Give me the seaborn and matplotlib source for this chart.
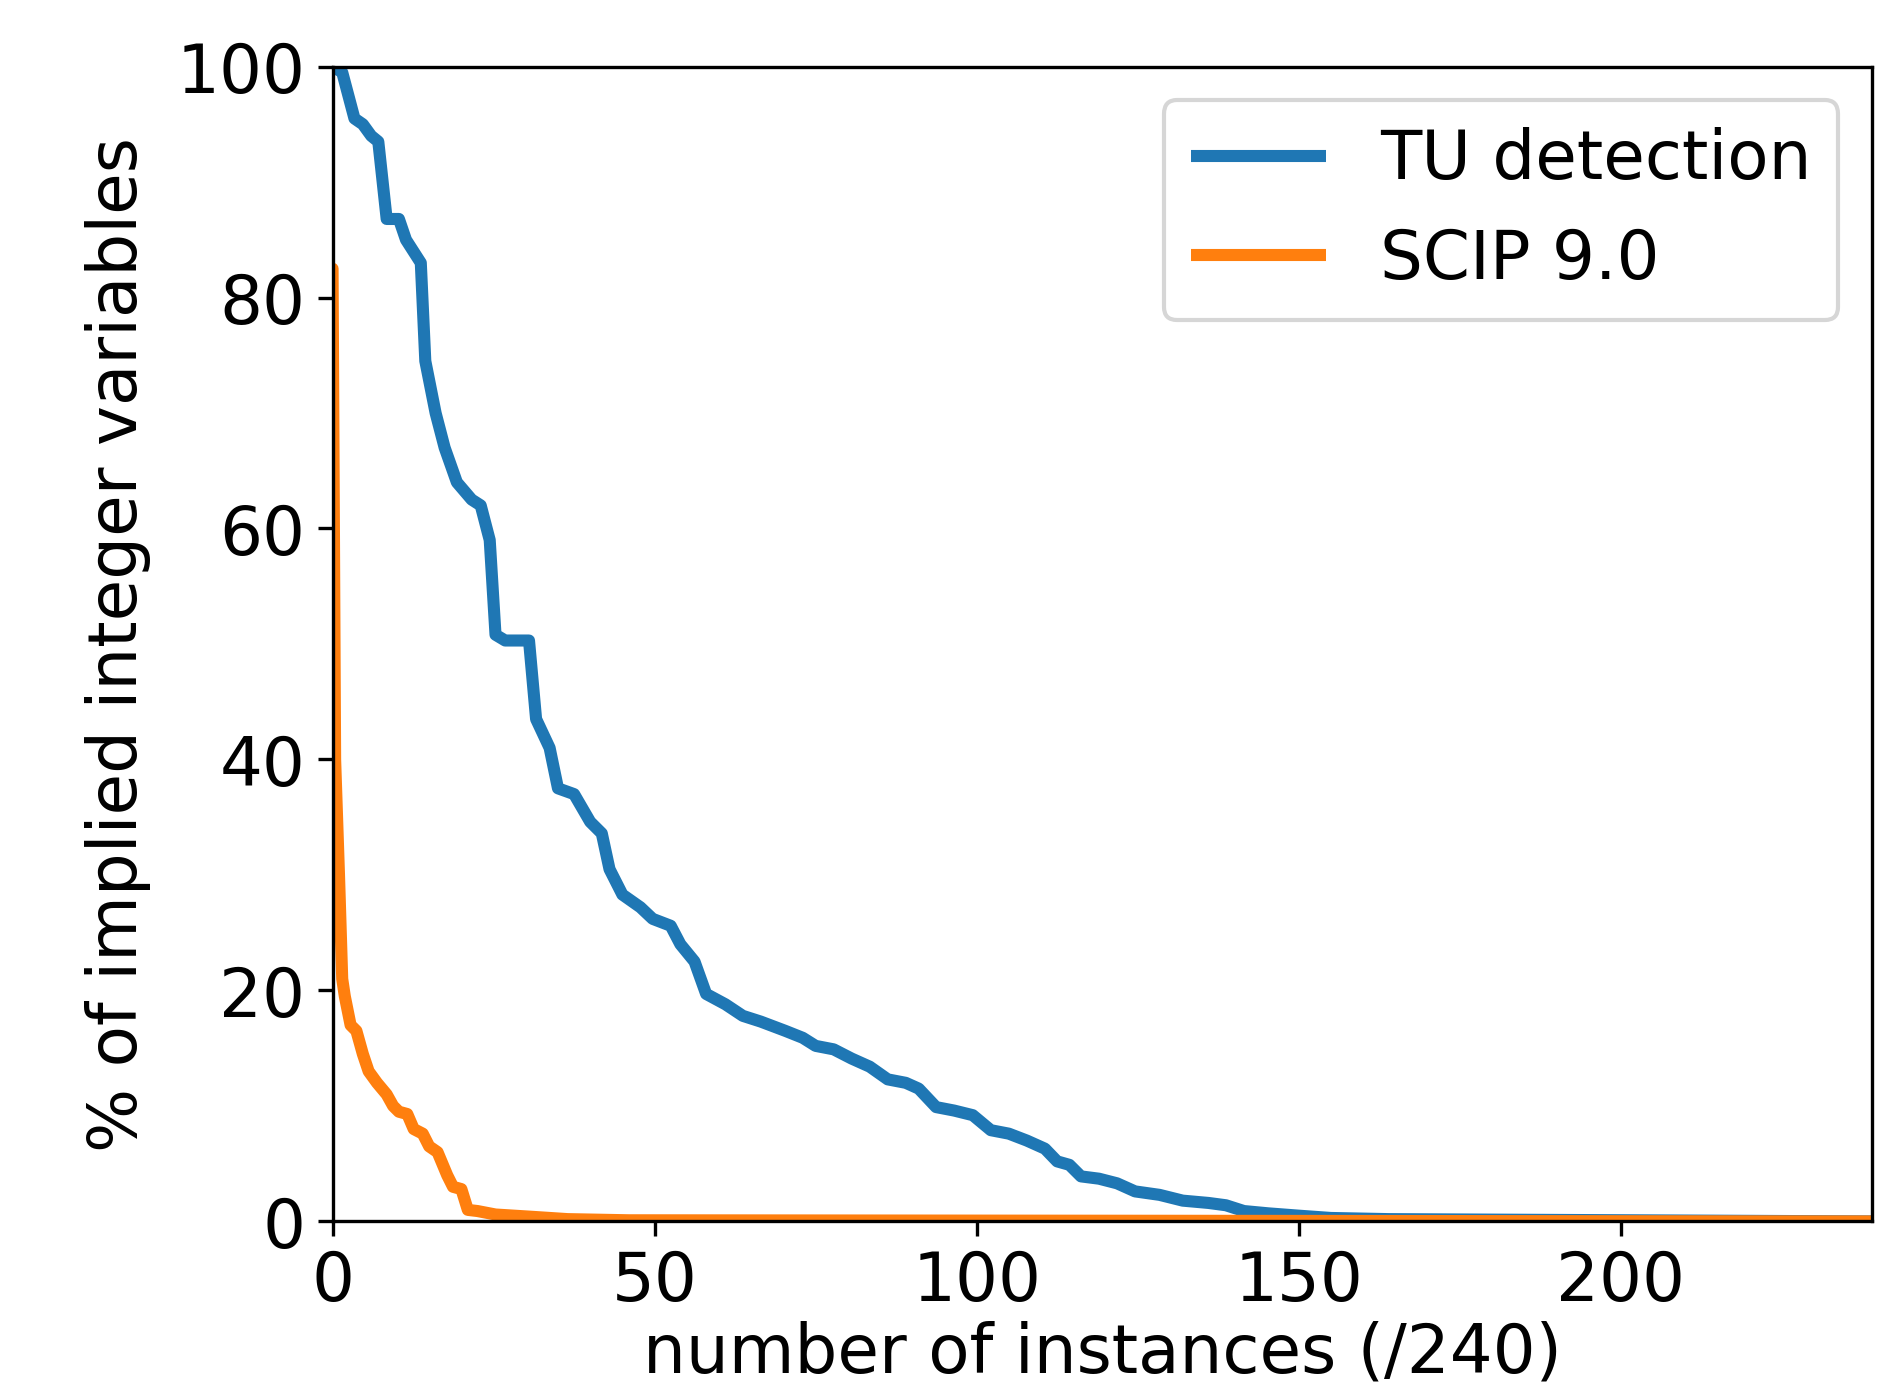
import matplotlib
matplotlib.use("Agg")
import matplotlib.pyplot as plt
import pandas as pd
import seaborn as sns

# values (x = instance rank, y = % implied integer vars)
tu_x = [0, 1.5, 3.4, 4.7, 6, 7.1, 8.4, 10.3, 11.4, 13.7, 14.4, 16, 17.4, 19.3,
        21.6, 23, 24.4, 25.3, 26.8, 30.5, 31.6, 33.7, 35, 37.5, 40, 41.8, 43,
        45, 47.8, 49.7, 52.5, 54, 56.2, 58, 61, 63.7, 66.5, 70.3, 73, 75, 77.8,
        80.6, 83.4, 86.2, 89, 91, 93.7, 96.5, 99.4, 102.2, 105, 107.8, 110.6,
        112.5, 114.4, 116.2, 119, 121.8, 124.6, 128.4, 132, 136, 138.7, 141.5,
        145.3, 150, 155, 164, 239]
tu_y = [100, 99.5, 95.5, 95, 94, 93.5, 86.8, 86.8, 85, 83, 74.5, 70, 67, 64,
        62.5, 62, 59, 50.8, 50.3, 50.3, 43.5, 41, 37.5, 37, 34.6, 33.6, 30.5,
        28.3, 27.2, 26.2, 25.6, 24, 22.5, 19.7, 18.8, 17.8, 17.3, 16.5, 15.9,
        15.2, 14.9, 14.1, 13.4, 12.3, 12, 11.5, 9.9, 9.6, 9.2, 7.9, 7.6, 7,
        6.3, 5.2, 4.9, 3.9, 3.7, 3.3, 2.6, 2.3, 1.8, 1.6, 1.4, 0.9, 0.7, 0.5,
        0.3, 0.2, 0.0]

scip_x = [0, 0.4, 1, 1.5, 1.9, 2.8, 3.7, 4.7, 5.6, 6.9, 8.4, 9.4, 10.3, 11.6,
          12.6, 14, 15, 16.3, 17.8, 18.7, 20, 21, 22.5, 25.3, 31, 36.5, 46, 239]
scip_y = [82.5, 40, 30, 21, 19.5, 17, 16.5, 14.5, 13, 12, 11, 10, 9.5, 9.3,
          8, 7.6, 6.5, 6, 4, 3, 2.8, 1, 0.9, 0.6, 0.4, 0.2, 0.1, 0.0]

labels = ["TU detection", "SCIP 9.0"]

df = pd.concat([
    pd.DataFrame({"x": tu_x, "y": tu_y, "method": labels[0]}),
    pd.DataFrame({"x": scip_x, "y": scip_y, "method": labels[1]}),
])

sns.set_style("ticks")
plt.rcParams["font.family"] = ["DejaVu Sans"]
plt.rcParams["text.color"] = "black"
plt.rcParams["axes.labelcolor"] = "black"
plt.rcParams["xtick.color"] = "black"
plt.rcParams["ytick.color"] = "black"

fs = 16.2
fig = plt.figure(figsize=(6.32, 4.627), dpi=300)
ax = fig.add_axes([0.1754, 0.120, 0.8119, 0.832])

sns.lineplot(data=df, x="x", y="y", hue="method", palette=["#1f77b4", "#ff7f0e"],
             linewidth=2.9, ax=ax, sort=False)
for line in ax.get_lines():
    line.set_solid_joinstyle("round")

ax.set_xlim(0, 239)
ax.set_ylim(0, 100)
ax.set_xticks([0, 50, 100, 150, 200])
ax.set_yticks([0, 20, 40, 60, 80, 100])
ax.tick_params(labelsize=fs, length=3.5, width=0.8, pad=3)
ax.set_xlabel("number of instances (/240)", fontsize=fs, labelpad=1.5)
ax.set_ylabel("% of implied integer variables", fontsize=fs, labelpad=6)
for s in ax.spines.values():
    s.set_color("black")
    s.set_linewidth(0.8)

leg = ax.legend(fontsize=fs, loc="upper right", handlelength=2.0,
                handletextpad=0.8, borderaxespad=0.5, frameon=True)
leg.set_title(None)
for h in leg.get_lines():
    h.set_solid_capstyle("butt")

fig.savefig("out.png", dpi=300)
